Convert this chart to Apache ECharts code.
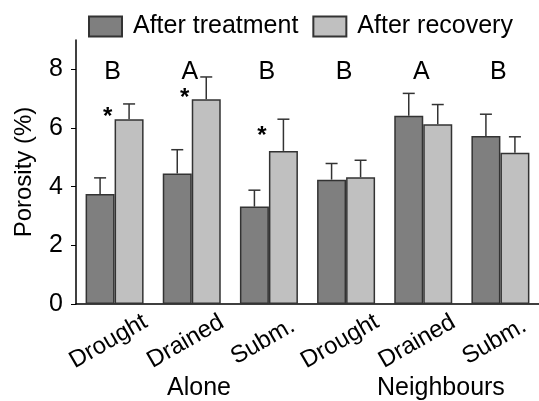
<!DOCTYPE html>
<html>
<head>
<meta charset="utf-8">
<script src="https://cdn.jsdelivr.net/npm/echarts@6/dist/echarts.min.js"></script>
<style>
  html, body { margin: 0; padding: 0; background: #fff; }
  #chart { width: 539px; height: 401px; }
</style>
</head>
<body>
<div id="chart"></div>
<script>
// values
const categories = ['Drought', 'Drained', 'Subm.', 'Drought', 'Drained', 'Subm.'];
const afterTreatment = [3.75, 4.45, 3.32, 4.24, 6.42, 5.73];
const treatmentErr = [0.55, 0.81, 0.56, 0.55, 0.76, 0.74];
const afterRecovery = [6.30, 6.98, 5.22, 4.32, 6.13, 5.16];
const recoveryErr = [0.52, 0.76, 1.08, 0.58, 0.67, 0.54];
const letters = ['B', 'A', 'B', 'B', 'A', 'B'];
const letterLevel = 7.95;
const starIdx = [0, 1, 2];
const starLevel = [6.55, 7.2, 5.92];
const yTicks = [0, 2, 4, 6, 8];

const FONT = 'Liberation Sans, Arial, sans-serif';
const DARK = '#7f7f7f';
const LIGHT = '#c0c0c0';
const EDGE = '#333333';
const BAR_W = 29;

const chart = echarts.init(document.getElementById('chart'));

function errBar(offset) {
  return function (params, api) {
    const base = api.coord([api.value(0), api.value(1)]);
    const top = api.coord([api.value(0), api.value(1) + api.value(2)]);
    const cx = base[0] + offset;
    const st = { stroke: EDGE, lineWidth: 1.5 };
    return {
      type: 'group',
      children: [
        { type: 'line', shape: { x1: cx, y1: base[1], x2: cx, y2: top[1] }, style: st },
        { type: 'line', shape: { x1: cx - 6, y1: top[1], x2: cx + 6, y2: top[1] }, style: st }
      ]
    };
  };
}

const option = {
  animation: false,
  textStyle: { fontFamily: FONT },
  legend: {
    left: 88,
    top: 14,
    padding: 0,
    icon: 'rect',
    itemWidth: 33,
    itemHeight: 20,
    itemGap: 14,
    data: ['After treatment', 'After recovery'],
    textStyle: { fontSize: 25, color: '#000', fontFamily: FONT, padding: [0, 0, 0, 6] }
  },
  grid: { left: 76, top: 40, width: 465, bottom: 97 },
  xAxis: {
    type: 'category',
    data: categories,
    axisLine: { lineStyle: { color: '#000', width: 1.5 } },
    axisTick: { show: false },
    axisLabel: {
      interval: 0,
      rotate: 30,
      align: 'center',
      verticalAlign: 'middle',
      margin: 34,
      padding: [0, 14, 0, 0],
      fontSize: 24,
      color: '#000',
      fontFamily: FONT
    }
  },
  yAxis: {
    type: 'value',
    min: 0,
    max: 9,
    name: 'Porosity (%)',
    nameLocation: 'middle',
    nameGap: 40,
    nameTextStyle: { fontSize: 24, color: '#000', fontFamily: FONT },
    splitLine: { show: false },
    axisLine: { show: true, lineStyle: { color: '#000', width: 1.5 } },
    axisTick: { show: true, length: 5, customValues: yTicks, lineStyle: { color: '#000' } },
    axisLabel: { customValues: yTicks, fontSize: 25, color: '#000', margin: 13, fontFamily: FONT }
  },
  series: [
    {
      name: 'After treatment',
      type: 'bar',
      data: afterTreatment,
      barWidth: BAR_W,
      barGap: '0%',
      itemStyle: { color: DARK, borderColor: EDGE, borderWidth: 1.5 }
    },
    {
      name: 'After recovery',
      type: 'bar',
      data: afterRecovery,
      barWidth: BAR_W,
      barGap: '0%',
      itemStyle: { color: LIGHT, borderColor: EDGE, borderWidth: 1.5 }
    },
    {
      type: 'custom',
      renderItem: errBar(-BAR_W / 2),
      data: afterTreatment.map((v, i) => [i, v, treatmentErr[i]]),
      encode: { x: 0, y: 1 },
      z: 1
    },
    {
      type: 'custom',
      renderItem: errBar(BAR_W / 2),
      data: afterRecovery.map((v, i) => [i, v, recoveryErr[i]]),
      encode: { x: 0, y: 1 },
      z: 1
    },
    {
      type: 'custom',
      data: letters.map((t, i) => [i, letterLevel, t]),
      encode: { x: 0, y: 1 },
      renderItem: function (params, api) {
        const p = api.coord([api.value(0), api.value(1)]);
        return {
          type: 'text',
          style: {
            x: p[0] - 2, y: p[1] + 1, text: letters[params.dataIndex],
            fontSize: 25, fontFamily: FONT, fill: '#000',
            align: 'center', verticalAlign: 'middle'
          }
        };
      }
    },
    {
      type: 'custom',
      data: starIdx.map((c, i) => [c, starLevel[i]]),
      encode: { x: 0, y: 1 },
      renderItem: function (params, api) {
        const p = api.coord([api.value(0), api.value(1)]);
        return {
          type: 'text',
          style: {
            x: p[0] - 7, y: p[1] + 6, text: '*',
            fontSize: 24, fontWeight: 'bold', fontFamily: FONT, fill: '#000',
            align: 'center', verticalAlign: 'middle'
          }
        };
      }
    }
  ],
  graphic: [
    { type: 'text', left: 167, top: 376, style: { text: 'Alone', fontSize: 25, fontFamily: FONT, fill: '#000' } },
    { type: 'text', left: 377, top: 376, style: { text: 'Neighbours', fontSize: 25, fontFamily: FONT, fill: '#000' } }
  ]
};

chart.setOption(option);
</script>
</body>
</html>
